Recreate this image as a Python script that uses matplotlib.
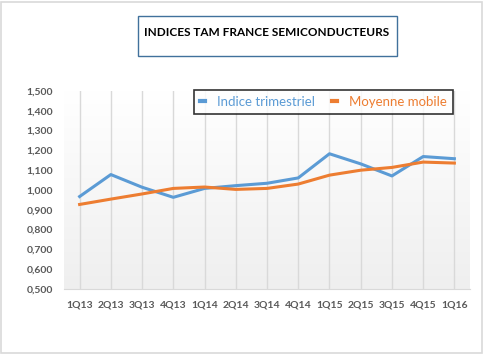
import matplotlib
matplotlib.use("Agg")
import matplotlib.pyplot as plt
import matplotlib.patches as patches
import numpy as np

plt.rcParams["font.family"] = ["Lato", "DejaVu Sans"]

quarters = ["1Q13", "2Q13", "3Q13", "4Q13", "1Q14", "2Q14", "3Q14",
            "4Q14", "1Q15", "2Q15", "3Q15", "4Q15", "1Q16"]
indice = [0.967, 1.078, 1.014, 0.963, 1.008, 1.022, 1.034,
          1.061, 1.183, 1.132, 1.071, 1.169, 1.158]
moyenne = [0.927, 0.954, 0.980, 1.008, 1.015, 1.003, 1.008,
           1.030, 1.075, 1.100, 1.114, 1.141, 1.136]
yticks = [0.5, 0.6, 0.7, 0.8, 0.9, 1.0, 1.1, 1.2, 1.3, 1.4, 1.5]

BLUE = "#5B9BD5"
ORANGE = "#ED7D31"
GREY_TXT = "#595959"

fig = plt.figure(figsize=(4.84, 3.54), dpi=100)
W, H = 484, 354

# outer frame
fig.patches.append(patches.Rectangle((1 / W, 1 / H), 1 - 3 / W, 1 - 3 / H,
                                     transform=fig.transFigure, fill=False,
                                     edgecolor="#d9d9d9", lw=1.2))

ax = fig.add_axes([64 / W, 1 - 289 / H, (470 - 64) / W, (289 - 91) / H])
x = np.arange(len(quarters))

# gradient background
grad = np.linspace(0, 1, 256).reshape(-1, 1)
ax.imshow(grad, extent=(-0.5, len(quarters) - 0.5, 0.5, 1.5), aspect="auto",
          cmap=matplotlib.colors.LinearSegmentedColormap.from_list(
              "g", ["#efefef", "#ffffff"]), origin="lower", zorder=0)

for xi in x:
    ax.axvline(xi, color="#d9d9d9", lw=1, zorder=1)

ax.plot(x, indice, color=BLUE, lw=2.2, label="Indice trimestriel", zorder=3)
ax.plot(x, moyenne, color=ORANGE, lw=2.2, label="Moyenne mobile", zorder=3)

ax.set_xlim(-0.5, len(quarters) - 0.5)
ax.set_ylim(0.5, 1.5)
ax.set_yticks(yticks)
ax.set_yticklabels([f"{v:.3f}".replace(".", ",") for v in yticks])
ax.set_xticks(x)
ax.set_xticklabels(quarters)
ax.tick_params(length=0, labelsize=7.5, colors=GREY_TXT, pad=8)
ax.tick_params(axis="y", pad=8)
for lbl in ax.get_xticklabels() + ax.get_yticklabels():
    lbl.set_fontweight("bold")
for side in ["top", "right", "left"]:
    ax.spines[side].set_visible(False)
ax.spines["bottom"].set_color("#d9d9d9")

# title box
fig.patches.append(patches.Rectangle((138 / W, 1 - 56 / H), (397 - 138) / W, 40 / H,
                                     transform=fig.transFigure, fill=True,
                                     facecolor="white", edgecolor="#41719C", lw=1))
fig.text(267 / W, 1 - 32 / H, "INDICES TAM FRANCE SEMICONDUCTEURS",
         ha="center", va="center", fontsize=8.5, fontweight="bold", color="black")

leg = fig.legend(loc="center", bbox_to_anchor=(323.5 / W, 1 - 102 / H), ncol=2,
                 frameon=True, fancybox=False, fontsize=9.5, handlelength=0.4,
                 handletextpad=0.9, columnspacing=1.3, labelcolor="linecolor",
                 borderpad=0.45)
leg.get_frame().set_edgecolor("black")
leg.get_frame().set_linewidth(1.2)
for h in leg.legend_handles:
    h.set_linewidth(3)

fig.savefig("out.png", dpi=100)
